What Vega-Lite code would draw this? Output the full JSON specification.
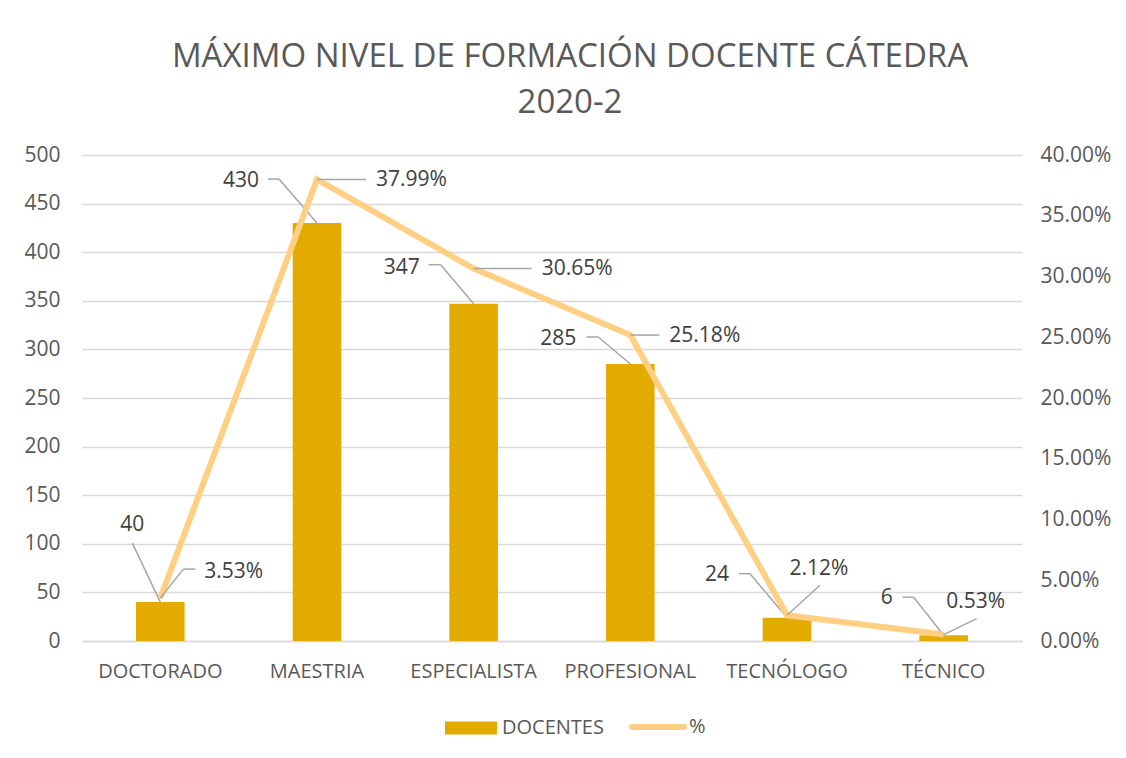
{
  "$schema": "https://vega.github.io/schema/vega-lite/v6.json",
  "width": 940,
  "height": 486,
  "autosize": "none",
  "padding": {"left": 82, "top": 155, "right": 104, "bottom": 117},
  "background": "white",
  "config": {
    "font": "Open Sans",
    "view": {"stroke": null},
    "axis": {"labelColor": "#595959", "ticks": false, "domain": false, "title": null}
  },
  "title": {
    "text": ["MÁXIMO NIVEL DE FORMACIÓN DOCENTE CÁTEDRA", "2020-2"],
    "fontSize": 33,
    "fontWeight": "normal",
    "color": "#595959",
    "lineHeight": 46,
    "anchor": "middle",
    "frame": "group",
    "dx": 18,
    "offset": 24
  },
  "data": {
    "values": [
      {"nivel": "DOCTORADO", "docentes": 40, "pct": 0.0353},
      {"nivel": "MAESTRIA", "docentes": 430, "pct": 0.3799},
      {"nivel": "ESPECIALISTA", "docentes": 347, "pct": 0.3065},
      {"nivel": "PROFESIONAL", "docentes": 285, "pct": 0.2518},
      {"nivel": "TECNÓLOGO", "docentes": 24, "pct": 0.0212},
      {"nivel": "TÉCNICO", "docentes": 6, "pct": 0.0053}
    ]
  },
  "encoding": {
    "x": {
      "field": "nivel",
      "type": "nominal",
      "sort": null,
      "scale": {"paddingInner": 0.69, "paddingOuter": 0.345},
      "axis": {
        "labelAngle": 0,
        "labelFontSize": 20,
        "labelPadding": 20,
        "domain": true,
        "domainColor": "#D9D9D9",
        "domainWidth": 1.5
      }
    }
  },
  "layer": [
    {
      "encoding": {
        "y": {
          "field": "docentes",
          "type": "quantitative",
          "scale": {"domain": [0, 500], "nice": false},
          "axis": {
            "values": [0, 50, 100, 150, 200, 250, 300, 350, 400, 450, 500],
            "labelFontSize": 21,
            "labelPadding": 22,
            "grid": true,
            "gridColor": "#D9D9D9",
            "gridWidth": 1.5
          }
        }
      },
      "layer": [
        {
          "mark": {"type": "bar"},
          "encoding": {
            "color": {
              "datum": "DOCENTES",
              "type": "nominal",
              "scale": {"domain": ["DOCENTES", "%"], "range": ["#E3AA00", "#FFCF84"]},
              "legend": {
                "title": null,
                "orient": "none",
                "legendX": 379,
                "legendY": 562,
                "direction": "horizontal",
                "padding": 0,
                "labelFontSize": 20,
                "labelColor": "#595959",
                "labelOffset": 21,
                "columnPadding": 16,
                "symbolSize": 2700,
                "symbolType": "M-1,-0.25H1V0.25H-1Z",
                "encode": {
                  "symbols": {
                    "update": {
                      "shape": {"signal": "datum.value === 'DOCENTES' ? 'M-1,-0.25H1V0.25H-1Z' : 'M-1,0H1'"},
                      "fill": {"signal": "datum.value === 'DOCENTES' ? '#E3AA00' : 'transparent'"},
                      "stroke": {"signal": "datum.value === 'DOCENTES' ? 'transparent' : '#FFCF84'"},
                      "strokeWidth": {"signal": "datum.value === 'DOCENTES' ? 0 : 6"},
                      "strokeCap": {"value": "round"},
                      "opacity": {"value": 1}
                    }
                  }
                }
              }
            }
          }
        },
        {
          "mark": {
            "type": "rule",
            "color": "#A6A6A6",
            "strokeWidth": 1.5,
            "x2Offset": {"expr": "[-28,-38,-33,-32,-37,-30][indexof(['DOCTORADO','MAESTRIA','ESPECIALISTA','PROFESIONAL','TECNÓLOGO','TÉCNICO'],datum.nivel)]"},
            "y2Offset": {"expr": "[-59,-44,-39,-27,-44,-38][indexof(['DOCTORADO','MAESTRIA','ESPECIALISTA','PROFESIONAL','TECNÓLOGO','TÉCNICO'],datum.nivel)]"}
          },
          "encoding": {
            "x2": {"field": "nivel"},
            "y2": {"field": "docentes"}
          }
        },
        {
          "mark": {
            "type": "rule",
            "color": "#A6A6A6",
            "strokeWidth": 1.5,
            "xOffset": {"expr": "[-28,-38,-33,-32,-37,-30][indexof(['DOCTORADO','MAESTRIA','ESPECIALISTA','PROFESIONAL','TECNÓLOGO','TÉCNICO'],datum.nivel)]"},
            "yOffset": {"expr": "[-59,-44,-39,-27,-44,-38][indexof(['DOCTORADO','MAESTRIA','ESPECIALISTA','PROFESIONAL','TECNÓLOGO','TÉCNICO'],datum.nivel)]"},
            "x2Offset": {"expr": "[-28,-49,-45,-44,-48,-41][indexof(['DOCTORADO','MAESTRIA','ESPECIALISTA','PROFESIONAL','TECNÓLOGO','TÉCNICO'],datum.nivel)]"},
            "y2Offset": {"expr": "[-59,-44,-39,-27,-44,-38][indexof(['DOCTORADO','MAESTRIA','ESPECIALISTA','PROFESIONAL','TECNÓLOGO','TÉCNICO'],datum.nivel)]"}
          },
          "encoding": {
            "x2": {"field": "nivel"},
            "y2": {"field": "docentes"}
          }
        },
        {
          "mark": {
            "type": "text",
            "fontSize": 21,
            "color": "#404040",
            "baseline": "middle",
            "align": {"expr": "datum.nivel === 'DOCTORADO' ? 'center' : 'right'"},
            "dx": {"expr": "[-28,-58,-54,-54,-58,-51][indexof(['DOCTORADO','MAESTRIA','ESPECIALISTA','PROFESIONAL','TECNÓLOGO','TÉCNICO'],datum.nivel)]"},
            "dy": {"expr": "[-77,-42,-36,-25,-43,-37][indexof(['DOCTORADO','MAESTRIA','ESPECIALISTA','PROFESIONAL','TECNÓLOGO','TÉCNICO'],datum.nivel)]"}
          },
          "encoding": {
            "text": {"field": "docentes", "type": "quantitative"}
          }
        }
      ]
    },
    {
      "encoding": {
        "y": {
          "field": "pct",
          "type": "quantitative",
          "scale": {"domain": [0, 0.4], "nice": false},
          "axis": {
            "orient": "right",
            "format": ".2%",
            "values": [0, 0.05, 0.1, 0.15, 0.2, 0.25, 0.3, 0.35, 0.4],
            "labelFontSize": 21,
            "labelPadding": 18,
            "grid": false
          }
        }
      },
      "layer": [
        {
          "mark": {"type": "line", "strokeWidth": 6, "strokeJoin": "miter"},
          "encoding": {
            "color": {"datum": "%", "type": "nominal"}
          }
        },
        {
          "mark": {
            "type": "rule",
            "color": "#A6A6A6",
            "strokeWidth": 1.5,
            "x2Offset": {"expr": "[23,0,0,0,33,33][indexof(['DOCTORADO','MAESTRIA','ESPECIALISTA','PROFESIONAL','TECNÓLOGO','TÉCNICO'],datum.nivel)]"},
            "y2Offset": {"expr": "[-29,0,0,0,-30,-16][indexof(['DOCTORADO','MAESTRIA','ESPECIALISTA','PROFESIONAL','TECNÓLOGO','TÉCNICO'],datum.nivel)]"}
          },
          "encoding": {
            "x2": {"field": "nivel"},
            "y2": {"field": "pct"}
          }
        },
        {
          "mark": {
            "type": "rule",
            "color": "#A6A6A6",
            "strokeWidth": 1.5,
            "xOffset": {"expr": "[23,0,0,0,33,33][indexof(['DOCTORADO','MAESTRIA','ESPECIALISTA','PROFESIONAL','TECNÓLOGO','TÉCNICO'],datum.nivel)]"},
            "yOffset": {"expr": "[-29,0,0,0,-30,-16][indexof(['DOCTORADO','MAESTRIA','ESPECIALISTA','PROFESIONAL','TECNÓLOGO','TÉCNICO'],datum.nivel)]"},
            "x2Offset": {"expr": "[35,49,58,29,33,33][indexof(['DOCTORADO','MAESTRIA','ESPECIALISTA','PROFESIONAL','TECNÓLOGO','TÉCNICO'],datum.nivel)]"},
            "y2Offset": {"expr": "[-29,0,0,0,-30,-16][indexof(['DOCTORADO','MAESTRIA','ESPECIALISTA','PROFESIONAL','TECNÓLOGO','TÉCNICO'],datum.nivel)]"}
          },
          "encoding": {
            "x2": {"field": "nivel"},
            "y2": {"field": "pct"}
          }
        },
        {
          "mark": {
            "type": "text",
            "fontSize": 21,
            "color": "#404040",
            "baseline": "middle",
            "align": {"expr": "indexof(['TECNÓLOGO','TÉCNICO'],datum.nivel) >= 0 ? 'center' : 'left'"},
            "dx": {"expr": "[44,59,68,39,32,32][indexof(['DOCTORADO','MAESTRIA','ESPECIALISTA','PROFESIONAL','TECNÓLOGO','TÉCNICO'],datum.nivel)]"},
            "dy": {"expr": "[-26,1,0,1,-46,-33][indexof(['DOCTORADO','MAESTRIA','ESPECIALISTA','PROFESIONAL','TECNÓLOGO','TÉCNICO'],datum.nivel)]"}
          },
          "encoding": {
            "text": {"field": "pct", "type": "quantitative", "format": ".2%"}
          }
        }
      ]
    }
  ],
  "resolve": {"scale": {"y": "independent"}}
}
